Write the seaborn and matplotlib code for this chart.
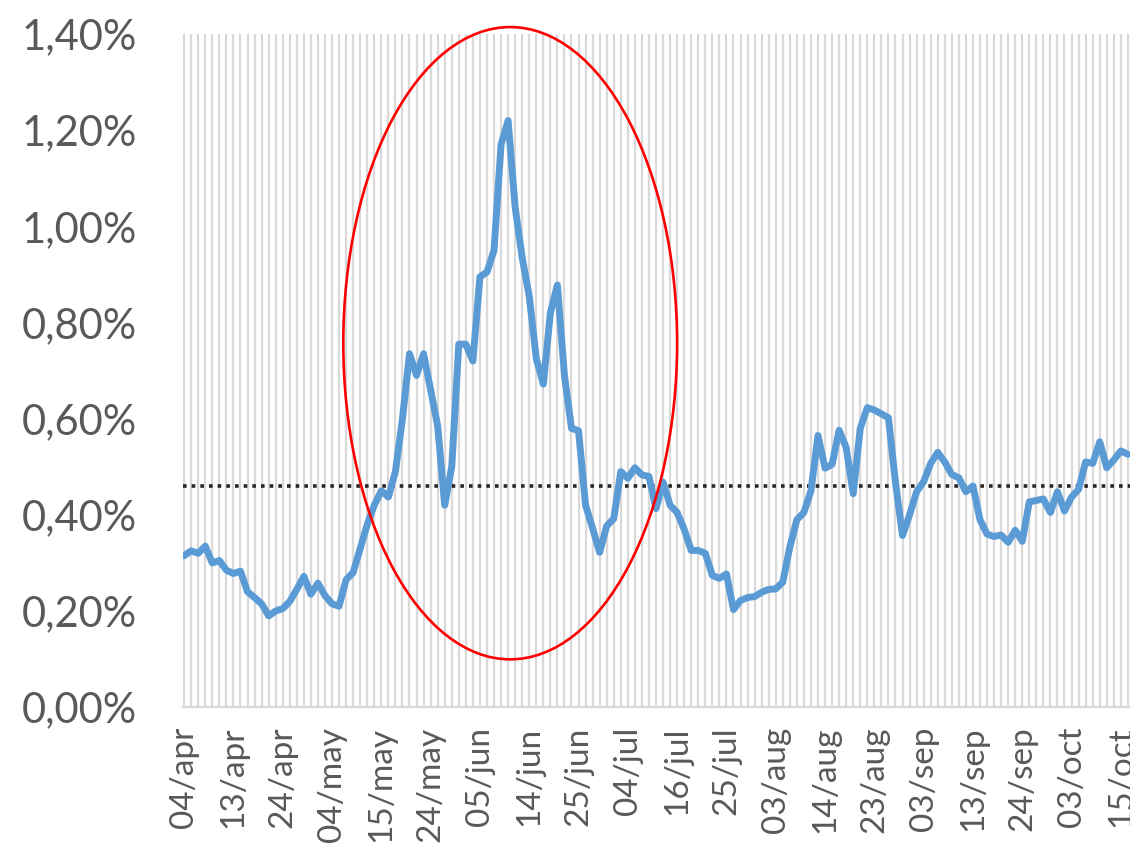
import matplotlib
matplotlib.use("Agg")
import matplotlib.pyplot as plt
from matplotlib.patches import Ellipse
from matplotlib.ticker import FuncFormatter
import seaborn as sns
import numpy as np
import pandas as pd

# ---- data (values in percent) ----
values = [
    0.315, 0.325, 0.320, 0.335, 0.300, 0.305, 0.285, 0.278, 0.283, 0.240,
    0.228, 0.215, 0.190, 0.200, 0.205, 0.220, 0.245, 0.272, 0.235, 0.258,
    0.232, 0.215, 0.210, 0.265, 0.280, 0.330, 0.380, 0.420, 0.450, 0.437,
    0.490, 0.600, 0.735, 0.690, 0.735, 0.660, 0.585, 0.420, 0.500, 0.755,
    0.755, 0.720, 0.895, 0.905, 0.950, 1.170, 1.220, 1.040, 0.935, 0.855,
    0.725, 0.672, 0.820, 0.878, 0.690, 0.580, 0.575, 0.420, 0.372, 0.322,
    0.377, 0.392, 0.490, 0.476, 0.498, 0.483, 0.480, 0.413, 0.468, 0.420,
    0.405, 0.370, 0.326, 0.326, 0.320, 0.274, 0.268, 0.277, 0.203, 0.222,
    0.228, 0.230, 0.239, 0.245, 0.246, 0.260, 0.333, 0.390, 0.405, 0.450,
    0.565, 0.497, 0.505, 0.576, 0.540, 0.444, 0.580, 0.623, 0.618, 0.610,
    0.602, 0.468, 0.357, 0.400, 0.448, 0.469, 0.507, 0.530, 0.510, 0.484,
    0.477, 0.448, 0.460, 0.390, 0.360, 0.355, 0.358, 0.343, 0.368, 0.345,
    0.427, 0.430, 0.433, 0.405, 0.448, 0.408, 0.437, 0.453, 0.510, 0.507,
    0.552, 0.498, 0.514, 0.533, 0.526,
]
tick_labels = ["04/apr", "13/apr", "24/apr", "04/may", "15/may", "24/may",
               "05/jun", "14/jun", "25/jun", "04/jul", "16/jul", "25/jul",
               "03/aug", "14/aug", "23/aug", "03/sep", "13/sep", "24/sep",
               "03/oct", "15/oct"]
label_step = 7
average_level = 0.46
y_ticks = [0.0, 0.2, 0.4, 0.6, 0.8, 1.0, 1.2, 1.4]

df = pd.DataFrame({"idx": np.arange(len(values)), "value": values})

sns.set_theme(style="white")
plt.rcParams["font.family"] = ["Lato", "DejaVu Sans"]

fig = plt.figure(figsize=(11.30, 8.51), dpi=100)
ax = fig.add_axes([0.162, 0.169, 0.838, 0.791])

# vertical gridlines at every category
ax.set_xticks(np.arange(len(values)), minor=True)
ax.grid(axis="x", which="minor", color="#d9d9d9", linewidth=1.6, zorder=0)
ax.grid(axis="x", which="major", color="#d9d9d9", linewidth=1.6, zorder=0)
ax.grid(axis="y", visible=False)
ax.set_axisbelow(True)

sns.lineplot(data=df, x="idx", y="value", ax=ax, color="#5b9bd5",
             linewidth=5.0, zorder=3)

ax.axhline(average_level, color="#262626", linewidth=2.6,
           linestyle=(0, (1, 1.4)), zorder=2)

ell = Ellipse(xy=(46.3, 0.757), width=47.4, height=1.315, fill=False,
              edgecolor="#ff0000", linewidth=1.9, zorder=4, clip_on=False)
ax.add_patch(ell)

ax.set_xlim(-0.15, len(values) - 0.7)
ax.set_ylim(0, 1.4)

major_pos = np.arange(0, len(tick_labels) * label_step, label_step)
ax.set_xticks(major_pos)
ax.set_xticklabels(tick_labels, rotation=90, fontsize=24, color="#595959",
                   ha="center", va="top")
ax.set_yticks(y_ticks)
ax.yaxis.set_major_formatter(FuncFormatter(lambda v, p: f"{v:.2f}%".replace(".", ",")))
ax.tick_params(axis="y", labelsize=30, labelcolor="#595959", length=0, pad=33)
ax.tick_params(axis="x", which="both", length=0, pad=14)

for s in ["top", "right", "left"]:
    ax.spines[s].set_visible(False)
ax.spines["bottom"].set_color("#d9d9d9")
ax.spines["bottom"].set_linewidth(1.6)

ax.set_xlabel("")
ax.set_ylabel("")

fig.savefig("out.png", dpi=100)
